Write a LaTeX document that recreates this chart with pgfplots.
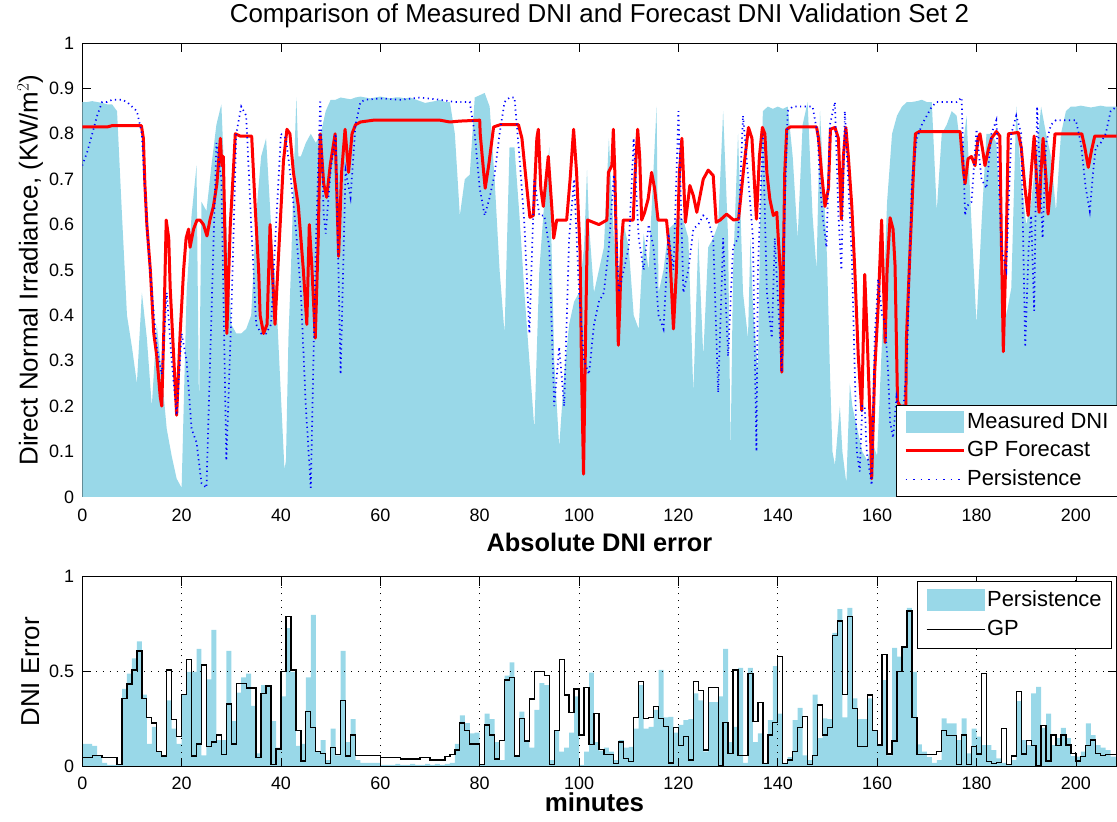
\documentclass[border=0pt]{standalone}
\usepackage{fontspec}
\setmainfont{Liberation Sans}
\usepackage{pgfplots}
\usepackage{pgfplotstable}
\pgfplotsset{compat=1.18}
\definecolor{dni}{RGB}{153,216,232}

\pgfplotstableread{
x y
0 0.87
1 0.87
2 0.872
3 0.87
4 0.868
5 0.865
6 0.865
7 0.85
8 0.62
9 0.40
10 0.33
11 0.25
12 0.45
13 0.35
14 0.20
15 0.38
16 0.27
17 0.15
18 0.09
19 0.04
20 0.02
21 0.45
22 0.62
23 0.73
23.5 0.19
24 0.65
25 0.63
26 0.73
27 0.82
28 0.865
29 0.60
30 0.38
31 0.36
32 0.36
33 0.37
34 0.40
35 0.62
36 0.75
37 0.79
38 0.60
39 0.45
40 0.22
40.7 0.06
41 0.08
41.5 0.35
42 0.50
42.6 0.72
43.1 0.88
43.5 0.75
44 0.75
45 0.78
46 0.80
47 0.78
48 0.80
49 0.85
50 0.875
51 0.875
52 0.88
53 0.878
54 0.876
55 0.88
56 0.882
57 0.88
58 0.878
59 0.88
60 0.882
61 0.88
62 0.878
63 0.88
64 0.88
65 0.878
66 0.88
67 0.876
68 0.872
69 0.868
70 0.87
71 0.872
72 0.875
73 0.87
74 0.87
75 0.80
76 0.62
77 0.70
78 0.71
79 0.88
80 0.885
81 0.89
82 0.86
83 0.70
84 0.50
85 0.36
86 0.77
87 0.77
88 0.62
89 0.45
90 0.30
91 0.15
92 0.50
93 0.65
94 0.77
95 0.30
96 0.11
97 0.27
98 0.38
99 0.43
100 0.45
101 0.55
101.6 0.72
102 0.60
103 0.45
104 0.50
105 0.55
106 0.79
107 0.57
108 0.50
109 0.60
110 0.55
111 0.40
112 0.37
113 0.58
114 0.50
115.6 0.86
116 0.45
117 0.50
118 0.59
119 0.60
120 0.62
121 0.61
122 0.57
123 0.23
124 0.57
125 0.31
126 0.55
127 0.57
128 0.60
129 0.85
129.5 0.71
130 0.57
130.5 0.10
131 0.50
132 0.80
133 0.45
134 0.35
134.5 0.57
135 0.42
136 0.275
136.5 0.64
137 0.85
138 0.86
139 0.855
140 0.86
141 0.855
142 0.86
143 0.75
144 0.57
145 0.82
146 0.87
147 0.62
147.8 0.50
148.5 0.85
149.2 0.69
149.9 0.53
150.5 0.275
151 0.10
151.5 0.07
152.5 0.20
153 0.10
153.8 0.03
154.5 0.25
155 0.20
156 0.15
157 0.10
158 0.08
159 0.12
160 0.09
161 0.35
162 0.65
163 0.80
164 0.84
165 0.86
166 0.87
167 0.87
168 0.872
169 0.875
170 0.87
171 0.87
172 0.63
173 0.80
174 0.82
175 0.85
176 0.84
177 0.75
178 0.84
179 0.60
180 0.38
181 0.60
182 0.80
183 0.80
184 0.78
185 0.55
186 0.40
187 0.46
188 0.86
189 0.70
190 0.60
191 0.65
192 0.75
193 0.86
194 0.80
195 0.75
196 0.63
197 0.80
198 0.85
199 0.86
200 0.86
201 0.862
202 0.86
203 0.858
204 0.86
205 0.862
206 0.86
207 0.86
208.2 0.86
}\measured

\pgfplotstableread{
x y
0 0.815
5 0.815
6 0.818
11.9 0.818
12.3 0.79
12.6 0.69
13 0.60
13.7 0.50
14.4 0.36
15 0.31
15.7 0.22
16 0.20
16.4 0.36
16.9 0.61
17.4 0.57
17.7 0.46
18.4 0.31
19.0 0.18
19.7 0.36
20.4 0.50
20.9 0.57
21.4 0.59
21.7 0.55
22.4 0.59
23.1 0.61
23.7 0.61
24.4 0.60
25.1 0.575
25.7 0.61
26.4 0.64
27.1 0.69
27.8 0.79
28.1 0.73
28.4 0.75
29.1 0.36
29.8 0.60
30.4 0.715
30.8 0.80
31.8 0.795
34.1 0.795
34.8 0.64
35.5 0.50
35.8 0.40
36.5 0.36
37.2 0.38
37.8 0.60
38.1 0.53
38.8 0.38
39.5 0.53
40.5 0.74
41.2 0.81
41.8 0.80
42.5 0.715
43.5 0.64
44.5 0.50
45.2 0.38
45.7 0.60
46.2 0.51
46.9 0.35
47.5 0.57
47.9 0.80
48.6 0.69
49.2 0.66
49.9 0.73
50.9 0.80
51.6 0.53
52.2 0.715
52.9 0.81
53.6 0.715
54.3 0.80
55.0 0.82
56.0 0.826
58.6 0.83
72 0.83
74 0.826
76 0.828
80 0.83
80.1 0.80
80.8 0.715
81.1 0.68
81.8 0.73
82.8 0.815
84.1 0.82
87.8 0.82
88.5 0.79
89.5 0.68
90.1 0.616
90.8 0.62
91.5 0.79
91.8 0.81
92.3 0.68
92.8 0.64
93.8 0.75
94.5 0.64
94.9 0.57
95.5 0.61
97.5 0.61
98.2 0.70
98.9 0.81
99.5 0.715
100.2 0.54
100.5 0.275
100.9 0.05
101.3 0.35
101.7 0.61
104.0 0.60
105.6 0.61
105.9 0.715
106.6 0.73
106.9 0.81
107.2 0.715
107.6 0.50
107.9 0.334
108.2 0.42
108.6 0.57
108.9 0.61
110.9 0.61
111.3 0.715
111.8 0.81
112.2 0.75
112.6 0.61
113.2 0.627
113.9 0.656
114.6 0.715
115.2 0.68
115.9 0.61
117.6 0.61
118.3 0.53
119.0 0.37
119.6 0.50
120.2 0.715
120.7 0.79
121.4 0.605
122.3 0.686
123.0 0.664
123.7 0.627
125.0 0.70
126.0 0.72
127.0 0.708
127.6 0.605
128.4 0.61
129.7 0.623
131.1 0.61
132.1 0.612
133.1 0.72
134.1 0.814
134.8 0.79
135.7 0.612
136.3 0.75
136.9 0.814
137.4 0.80
137.8 0.715
138.4 0.656
139.1 0.62
139.8 0.627
140.1 0.57
140.5 0.50
140.8 0.275
141.1 0.50
141.4 0.715
141.8 0.81
142.5 0.815
147.8 0.815
148.2 0.79
148.8 0.715
149.5 0.64
150.2 0.68
150.6 0.81
151.5 0.814
152.2 0.79
152.8 0.612
153.2 0.75
153.7 0.814
154.2 0.75
154.9 0.64
155.5 0.50
156.2 0.31
156.9 0.19
157.5 0.49
158.0 0.35
158.6 0.165
158.9 0.04
159.5 0.275
160.2 0.42
160.9 0.61
161.3 0.46
161.6 0.34
162.0 0.50
162.6 0.615
163.2 0.59
163.6 0.51
164.1 0.21
164.6 0.20
165.3 0.20
165.6 0.02
165.9 0.35
166.6 0.54
167.3 0.715
167.7 0.80
168.5 0.805
176.7 0.805
177.0 0.766
177.4 0.715
177.7 0.69
178.3 0.745
179.0 0.75
179.7 0.73
180.3 0.79
180.7 0.80
181.3 0.76
181.7 0.73
182.4 0.766
183.0 0.79
184.0 0.805
184.7 0.795
185.0 0.57
185.4 0.32
186.0 0.57
186.4 0.80
188.4 0.803
189.0 0.77
189.7 0.686
190.4 0.62
191.0 0.715
191.6 0.795
192.1 0.70
192.6 0.627
193.0 0.72
193.4 0.79
194.0 0.70
194.4 0.623
195.1 0.70
195.8 0.80
201.2 0.80
201.8 0.77
202.5 0.726
203.2 0.766
203.8 0.795
208.2 0.795
}\gpforecast

\pgfplotstableread{
x y
0 0.73
1 0.76
2 0.80
3 0.84
4 0.87
5 0.87
6 0.875
7 0.875
8 0.875
9 0.87
10 0.86
11 0.85
12 0.80
13 0.60
14 0.45
15 0.33
16 0.27
17 0.45
18 0.30
19 0.18
20 0.36
21 0.30
22 0.15
23 0.12
24 0.03
25 0.02
26 0.40
27 0.78
28 0.70
29 0.08
30 0.40
31 0.80
32 0.86
33 0.84
34 0.60
35 0.38
36 0.36
37 0.36
38 0.38
39 0.60
40 0.80
41 0.79
42 0.70
43 0.59
44 0.45
45 0.20
46 0.02
47 0.55
47.9 0.875
48.6 0.62
49 0.58
50 0.72
51 0.80
52 0.27
53 0.72
54 0.66
55 0.82
56 0.87
57 0.875
60 0.878
64 0.875
68 0.88
72 0.875
75 0.87
78 0.87
79 0.80
80 0.68
81 0.62
82 0.66
83 0.71
84 0.80
85 0.87
86 0.88
87 0.88
88 0.75
89 0.60
90 0.36
91 0.70
92 0.62
93 0.62
94 0.55
95 0.20
96 0.33
97 0.20
98 0.57
99 0.70
100 0.45
101 0.30
102 0.27
103 0.38
104 0.43
105 0.45
106 0.55
107 0.71
108 0.45
109 0.50
110 0.55
111 0.79
112 0.57
113 0.50
114 0.60
115 0.55
116 0.40
117 0.37
118 0.58
119 0.50
120 0.85
121 0.45
122 0.50
123 0.59
124 0.60
125 0.62
126 0.61
127 0.57
128 0.23
129 0.57
130 0.31
131 0.55
132 0.57
133 0.84
134 0.71
135 0.57
135.7 0.10
136 0.50
137 0.80
137.8 0.45
138.8 0.35
139.4 0.57
140.1 0.42
140.8 0.275
141.4 0.64
142 0.85
143 0.86
147 0.86
148 0.80
148.5 0.69
149 0.62
149.8 0.55
150.5 0.82
151.5 0.87
152.2 0.62
152.8 0.50
153.5 0.85
154.2 0.69
154.9 0.53
155.5 0.275
155.9 0.10
156.5 0.056
157 0.20
157.5 0.20
157.9 0.10
158.9 0.026
159.5 0.35
160.2 0.48
161 0.40
161.6 0.385
162.2 0.275
162.6 0.165
163.2 0.13
163.9 0.22
165 0.15
166 0.30
167 0.70
168 0.79
169 0.82
170 0.84
171 0.86
172 0.87
176 0.87
177 0.88
177.7 0.62
178 0.64
179 0.65
180 0.81
181 0.70
182 0.68
183 0.80
184 0.83
185 0.55
186 0.50
187 0.80
188 0.84
189 0.80
189.8 0.33
190.5 0.55
191 0.62
191.6 0.41
192.2 0.86
193.3 0.57
194 0.78
195 0.82
196 0.83
200 0.83
201 0.78
201.5 0.73
202 0.68
202.8 0.63
203.5 0.72
204 0.77
205 0.78
206 0.80
207 0.85
208.2 0.86
}\persistence

\pgfplotstableread{
x pe ge
0 0.12 0.047
1 0.12 0.047
2 0.11 0.058
3 0.06 0.058
4 0.02 0.05
5 0.01 0.047
6 0.01 0.047
7 0.01 0.01
8 0.41 0.36
9 0.49 0.435
10 0.57 0.51
11 0.66 0.61
12 0.38 0.36
13 0.12 0.26
14 0.21 0.23
15 0.08 0.08
16 0.05 0.056
17 0.35 0.51
18 0.20 0.25
19 0.12 0.16
20 0.38 0.38
21 0.50 0.565
22 0.50 0.056
23 0.62 0.12
24 0.06 0.535
25 0.46 0.105
26 0.72 0.13
27 0.14 0.167
28 0.14 0.065
29 0.61 0.33
30 0.24 0.12
31 0.39 0.44
32 0.47 0.44
33 0.49 0.415
34 0.32 0.415
35 0.07 0.05
36 0.43 0.386
37 0.43 0.425
38 0.24 0.01
39 0.10 0.093
40 0.37 0.50
41 0.73 0.79
42 0.50 0.51
43 0.11 0.19
44 0.12 0.03
45 0.47 0.29
46 0.80 0.205
47 0.08 0.08
48 0.14 0.07
49 0.035 0.018
50 0.20 0.10
51 0.06 0.065
52 0.61 0.35
53 0.13 0.056
54 0.25 0.167
55 0.035 0.058
56 0.02 0.058
57 0.02 0.058
58 0.02 0.058
59 0.02 0.058
60 0.01 0.05
61 0.01 0.05
62 0.01 0.05
63 0.015 0.05
64 0.01 0.04
65 0.01 0.04
66 0.015 0.04
67 0.01 0.04
68 0.01 0.047
69 0.015 0.047
70 0.01 0.035
71 0.015 0.035
72 0.01 0.035
73 0.015 0.053
74 0.02 0.065
75 0.12 0.088
76 0.27 0.23
77 0.23 0.19
78 0.175 0.12
79 0.18 0.12
80 0.01 0.01
81 0.28 0.22
82 0.25 0.167
83 0.13 0.04
84 0.035 0.137
85 0.48 0.456
86 0.55 0.47
87 0.06 0.056
88 0.29 0.254
89 0.13 0.135
90 0.10 0.356
91 0.30 0.50
92 0.44 0.50
93 0.43 0.48
94 0.035 0.012
95 0.19 0.19
96 0.08 0.565
97 0.10 0.377
98 0.18 0.286
99 0.37 0.41
100 0.01 0.167
101 0.08 0.416
102 0.495 0.118
103 0.13 0.28
104 0.085 0.09
105 0.10 0.065
106 0.08 0.065
107 0.035 0.018
108 0.14 0.13
109 0.10 0.044
110 0.105 0.026
111 0.20 0.26
112 0.43 0.447
113 0.20 0.254
114 0.21 0.26
115 0.30 0.316
116 0.51 0.254
117 0.26 0.21
118 0.263 0.02
119 0.18 0.205
120 0.22 0.11
121 0.245 0.16
122 0.25 0.035
123 0.386 0.45
124 0.35 0.40
125 0.08 0.088
126 0.34 0.416
127 0.34 0.416
128 0.37 0.005
129 0.62 0.233
130 0.13 0.07
131 0.21 0.51
132 0.52 0.06
133 0.02 0.06
134 0.52 0.49
135 0.13 0.237
136 0.175 0.34
137 0.02 0.018
138 0.245 0.167
139 0.53 0.233
140 0.28 0.58
141 0.02 0.018
142 0.05 0.035
143 0.245 0.08
144 0.31 0.207
145 0.06 0.263
146 0.035 0.012
147 0.38 0.06
148 0.15 0.325
149 0.254 0.167
150 0.25 0.207
151 0.705 0.69
152 0.83 0.767
153 0.26 0.38
154 0.837 0.79
155 0.36 0.307
156 0.25 0.105
157 0.25 0.105
158 0.36 0.377
159 0.19 0.19
160 0.114 0.114
161 0.456 0.59
162 0.06 0.067
163 0.626 0.135
164 0.58 0.50
165 0.63 0.63
166 0.837 0.82
167 0.50 0.26
168 0.118 0.065
169 0.08 0.065
170 0.05 0.065
171 0.02 0.065
172 0.035 0.08
173 0.254 0.19
174 0.228 0.163
175 0.228 0.163
176 0.14 0.012
177 0.254 0.167
178 0.07 0.012
179 0.20 0.105
180 0.158 0.067
181 0.114 0.49
182 0.114 0.026
183 0.088 0.018
184 0.044 0.023
185 0.02 0.20
186 0.012 0.012
187 0.035 0.056
188 0.346 0.395
189 0.14 0.067
190 0.114 0.137
191 0.386 0.11
192 0.42 0.005
193 0.205 0.216
194 0.28 0.03
195 0.114 0.167
196 0.15 0.11
197 0.205 0.167
198 0.15 0.114
199 0.056 0.07
200 0.053 0.03
201 0.08 0.053
202 0.228 0.11
203 0.167 0.14
204 0.114 0.07
205 0.10 0.06
206 0.088 0.065
207 0.053 0.065
208.2 0.053 0.065
}\errors

\pgfplotsset{
  myaxis/.style={
    scale only axis,
    width=1034.8bp,
    xmin=0, xmax=208.2,
    ymin=0, ymax=1,
    anchor=south west,
    tick align=inside,
    major tick length=9bp,
    axis line style={line width=0.8bp, black},
    every tick/.style={black, line width=0.7bp},
    xtick={0,20,40,60,80,100,120,140,160,180,200},
    xticklabels={0,20,40,60,80,100,120,140,160,180,200},
    tick label style={font=\fontsize{18}{20}\selectfont},
    /pgf/number format/assume math mode=true,
    yticklabel style={anchor=east, inner sep=0pt, xshift=-8bp},
    xticklabel style={anchor=base, inner sep=0pt},
    legend cell align=left,
  },
  mylegend/.style={
    draw=black, line width=0.8bp, fill=white, overlay,
    font=\fontsize{22}{24}\selectfont, inner xsep=8bp,
    nodes={inner sep=2bp, text height=16bp, text depth=4bp},
  }
}

\begin{document}
\begin{tikzpicture}
\path (0bp,0bp) rectangle (1117bp,822bp);

\begin{axis}[myaxis,
  at={(82.3bp,325bp)},
  height=454bp,
  ytick={0,0.1,0.2,0.3,0.4,0.5,0.6,0.7,0.8,0.9,1},
  yticklabels={0,0.1,0.2,0.3,0.4,0.5,0.6,0.7,0.8,0.9,1},
  xticklabel style={yshift=-25bp},
  title={Comparison of Measured DNI and Forecast DNI Validation Set 2},
  title style={at={(axis description cs:0.5,1)}, anchor=base, yshift=15bp, font=\fontsize{26}{28}\selectfont},
  ylabel={Direct Normal Irradiance, (KW/m$^{2}$)},
  ylabel style={at={(axis description cs:-0.0503,0.5)}, anchor=center, font=\fontsize{26}{28}\selectfont},
  legend style={mylegend, inner ysep=5bp, row sep=4.5bp, at={(0.7865,0)}, anchor=south west},
]
\addplot[fill=dni, draw=none, legend image code/.code={\fill[dni] (0bp,-11bp) rectangle (58bp,11bp);}] table[x=x,y=y] {\measured} \closedcycle;
\addlegendentry{Measured DNI}
\addplot[red, line width=3bp, line join=round, legend image code/.code={\draw[red, line width=3bp] (0bp,0bp) -- (58bp,0bp);}] table[x=x,y=y] {\gpforecast};
\addlegendentry{GP Forecast}
\addplot[blue, line width=1.7bp, dash pattern=on 1.2bp off 3.5bp, legend image code/.code={\draw[blue, line width=1.7bp, dash pattern=on 1.5bp off 6bp] (0bp,0bp) -- (58bp,0bp);}] table[x=x,y=y] {\persistence};
\addlegendentry{Persistence}
\end{axis}

\begin{axis}[myaxis,
  at={(82.3bp,55bp)},
  height=190bp,
  axis on top,
  ytick={0,0.5,1},
  yticklabels={0,0.5,1},
  xticklabel style={yshift=-23bp},
  grid=major,
  major grid style={black, line width=0.8bp, dash pattern=on 0.9bp off 6bp},
  title={Absolute DNI error},
  title style={at={(axis description cs:0.5,1)}, anchor=base, yshift=19bp, font=\bfseries\fontsize{25.5}{27}\selectfont},
  ylabel={DNI Error},
  ylabel style={at={(axis description cs:-0.0503,0.5)}, anchor=center, font=\fontsize{26}{28}\selectfont},
  xlabel={minutes},
  xlabel style={at={(axis description cs:0.5,0)}, anchor=base, yshift=-45bp, xshift=-5bp, font=\bfseries\fontsize{26}{28}\selectfont},
  legend style={mylegend, inner ysep=7bp, row sep=5bp, at={(0.8075,0.979)}, anchor=north west},
]
\addplot[ybar interval, fill=dni, draw=none, legend image code/.code={\fill[dni] (0bp,-11bp) rectangle (58bp,11bp);}] table[x=x,y=pe] {\errors};
\addlegendentry{Persistence}
\addplot[const plot, black, line width=1.3bp, legend image code/.code={\draw[black, line width=1.3bp] (0bp,0bp) -- (58bp,0bp);}] table[x=x,y=ge] {\errors};
\addlegendentry{GP}
\end{axis}
\end{tikzpicture}
\end{document}
